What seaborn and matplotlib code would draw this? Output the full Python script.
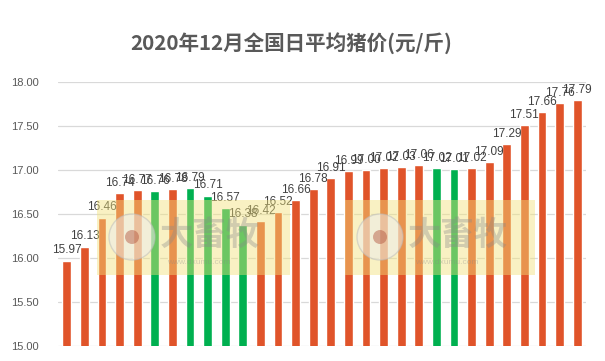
import matplotlib
matplotlib.use("Agg")
import matplotlib.pyplot as plt
import seaborn as sns
import pandas as pd
from matplotlib.patches import Rectangle, Ellipse

days = [str(i) for i in range(1, 31)]
prices = [15.97, 16.13, 16.46, 16.74, 16.77, 16.76, 16.78, 16.79, 16.71, 16.57,
          16.38, 16.42, 16.52, 16.66, 16.78, 16.91, 16.99, 17.00, 17.02, 17.03,
          17.06, 17.02, 17.01, 17.02, 17.09, 17.29, 17.51, 17.66, 17.76, 17.79]
trend = ["up", "up", "up", "up", "up", "down", "up", "down", "down", "down",
         "down", "up", "up", "up", "up", "up", "up", "up", "up", "up",
         "up", "down", "down", "up", "up", "up", "up", "up", "up", "up"]
title = "2020年12月全国日平均猪价(元/斤)"
yticks = [15.0, 15.5, 16.0, 16.5, 17.0, 17.5, 18.0]

df = pd.DataFrame({"day": days, "price": prices, "trend": trend})

sns.set_theme(style="white")
plt.rcParams["font.family"] = ["Liberation Sans", "Noto Sans CJK SC", "DejaVu Sans"]

fig = plt.figure(figsize=(6.05, 3.61), dpi=100)
ax = fig.add_axes([58 / 605, 1 - 346 / 361, 528 / 605, 264 / 361])

sns.barplot(data=df, x="day", y="price", hue="trend",
            palette={"up": "#E0542A", "down": "#00B050"},
            width=0.5, legend=False, ax=ax, dodge=False, saturation=1)

ax.set_ylim(15.0, 18.0)
ax.set_yticks(yticks)
ax.set_yticklabels([f"{v:.2f}" for v in yticks], fontsize=8, color="#595959")
ax.set_xticks([])
ax.set_xlabel("")
ax.set_ylabel("")
ax.set_xlim(-0.5, len(days) - 0.5)
for v in yticks:
    ax.axhline(v, color="#D9D9D9", lw=0.9, zorder=0)
for s in ax.spines.values():
    s.set_visible(False)
ax.tick_params(axis="y", length=0, pad=14)

for i, v in enumerate(prices):
    ax.annotate(f"{v:.2f}", (i, v), xytext=(0, 3), textcoords="offset points",
                ha="center", va="bottom", fontsize=8.5, color="#404040")

fig.text(291 / 605, 1 - 43 / 361, title, ha="center", va="center", fontsize=14.8,
         fontweight="bold", color="#595959", family=["Noto Sans CJK SC", "DejaVu Sans"])

# watermark
for x0, x1 in [(97, 290), (345, 535)]:
    fig.patches.append(Rectangle((x0 / 605, 1 - 275 / 361), (x1 - x0) / 605, 75 / 361,
                                 transform=fig.transFigure, facecolor="#F2E27A",
                                 alpha=0.45, edgecolor="none", zorder=5))
    cx = x0 + 35
    fig.patches.append(Ellipse((cx / 605, 1 - 237 / 361), 46 / 605, 46 / 361,
                               transform=fig.transFigure, facecolor="#EDEDED",
                               edgecolor="#BBBBBB", alpha=0.5, zorder=6))
    fig.patches.append(Ellipse((cx / 605, 1 - 237 / 361), 14 / 605, 14 / 361,
                               transform=fig.transFigure, facecolor="#B0503A",
                               edgecolor="none", alpha=0.45, zorder=7))
    fig.text((cx + 28) / 605, 1 - 235 / 361, "大畜牧", fontsize=24, color="#888888",
             alpha=0.35, va="center", ha="left", fontweight="bold",
             family=["Noto Sans CJK SC"], zorder=6)
    fig.text((cx + 35) / 605, 1 - 262 / 361, "www.dxumu.com", fontsize=6,
             color="#888888", alpha=0.35, va="center", ha="left", zorder=6)

fig.savefig("out.png", dpi=100, facecolor="white")
